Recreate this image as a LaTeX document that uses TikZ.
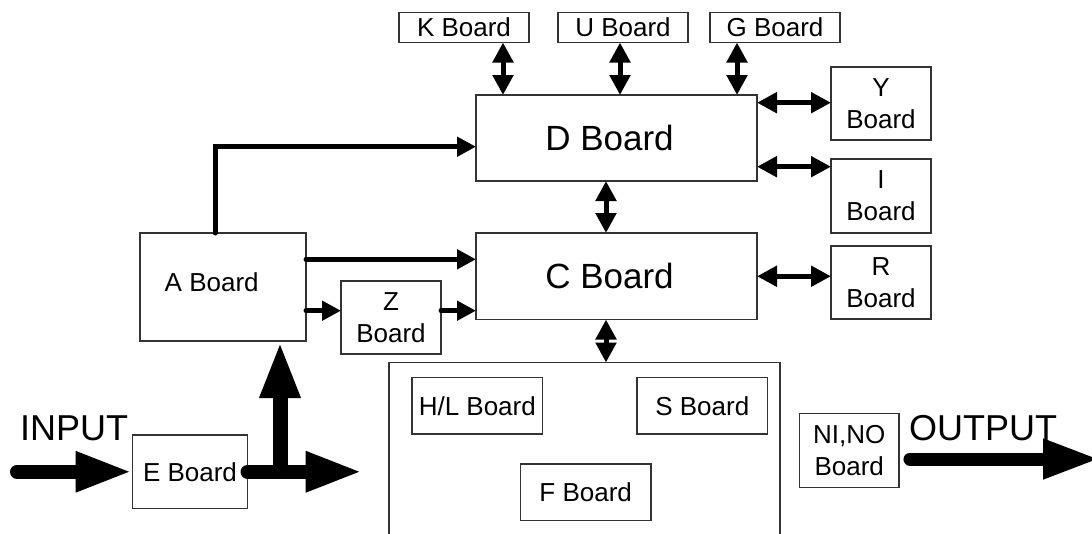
\documentclass[tikz,border=0pt]{standalone}
\usepackage{fontspec}
\setmainfont{Liberation Sans}
\usetikzlibrary{arrows.meta}
\begin{document}
\begin{tikzpicture}[x=1pt,y=-1pt,
  box/.style={draw=black!80, line width=1.3pt, rectangle, inner sep=0pt, outer sep=0pt, align=center, font=\fontsize{26}{32}\selectfont},
  lbl/.style={inner sep=0pt, font=\fontsize{26}{32}\selectfont},
  biglbl/.style={inner sep=0pt, font=\fontsize{35}{42}\selectfont},
  iolbl/.style={inner sep=0pt, font=\fontsize{36}{42}\selectfont},
  dbl/.style={line width=5pt, arrows={Triangle[length=20pt,width=20pt]-Triangle[length=20pt,width=20pt]}},
  one/.style={line width=5pt, line cap=round, arrows={-Triangle[length=19pt,width=19pt]}},
  fat/.style={line width=14pt, line cap=round, arrows={-Triangle[length=57pt,width=37pt]}},
]
\useasboundingbox (0,0) rectangle (1092,533);

% boxes
\node[box, minimum width=130pt, minimum height=30pt] (K) at (464,27.5) {K Board};
\node[box, minimum width=130pt, minimum height=30pt] (U) at (623,27.5) {U Board};
\node[box, minimum width=130pt, minimum height=30pt] (G) at (775,27.5) {G Board};
\node[box, minimum width=281pt, minimum height=86pt] (D) at (616.5,138) {};
\node[biglbl, anchor=base] (Dl) at (609.5,150.7) {D Board};
\node[box, minimum width=281pt, minimum height=86.5pt] (C) at (616.5,276.25) {};
\node[biglbl, anchor=base] (Cl) at (609.5,288.3) {C Board};
\node[box, minimum width=100pt, minimum height=73pt] (Y) at (881,103.5) {Y\\Board};
\node[box, minimum width=100pt, minimum height=74pt] (I) at (881,196) {I\\Board};
\node[box, minimum width=100pt, minimum height=73pt] (R) at (881,282.5) {R\\Board};
\node[box, minimum width=166pt, minimum height=108pt] (A) at (223,287) {};
\node[lbl, anchor=base] (Al) at (211.7,291.7) {A Board};
\node[box, minimum width=100pt, minimum height=73pt] (Z) at (391,317.5) {Z\\Board};
\node[box, minimum width=115pt, minimum height=73.5pt] (E) at (190,471.75) {E Board};
\node[box, minimum width=391pt, minimum height=200pt] (P) at (584.5,462.5) {};
\node[box, minimum width=130.7pt, minimum height=56.3pt] (HL) at (477.3,405.9) {H/L Board};
\node[box, minimum width=130.7pt, minimum height=56.3pt] (S) at (702.3,405.9) {S Board};
\node[box, minimum width=130.5pt, minimum height=56.3pt] (F) at (585.7,492.2) {F Board};
\node[box, minimum width=99.5pt, minimum height=74pt] (N) at (849.2,450.3) {NI,NO\\Board};
\node[iolbl, anchor=base west] (IN) at (20,440) {INPUT};
\node[iolbl, anchor=base west] (OUT) at (909,440) {OUTPUT};

% helper coordinates
\coordinate (k0) at ([xshift=39pt]K.south);
\coordinate (u0) at ([xshift=-3pt]U.south);
\coordinate (g0) at ([xshift=-38pt]G.south);
\coordinate (dy) at ([yshift=35.3pt]D.east);
\coordinate (di) at ([yshift=-28.7pt]D.east);
\coordinate (dc) at ([xshift=-10.5pt]D.south);
\coordinate (cp) at ([xshift=-10.5pt]C.south);
\coordinate (ad) at ([xshift=-8pt]A.north);
\coordinate (dw) at ([yshift=-8.7pt]D.west);
\coordinate (ac) at ([yshift=27.7pt]A.east);
\coordinate (az) at ([yshift=-23.7pt]A.east);
\coordinate (zc) at ([yshift=6.8pt]Z.east);
\coordinate (in0) at (17,471.75);
\coordinate (eout) at (362.7,471.75);
\coordinate (up0) at (280,471.75);
\coordinate (o0) at ([xshift=11pt,yshift=-8.7pt]N.east);
\coordinate (o1) at (1100,459);

% double arrows
\draw[dbl] (k0) -- (k0 |- D.north);
\draw[dbl] (u0) -- (u0 |- D.north);
\draw[dbl] (g0) -- (g0 |- D.north);
\draw[dbl] (dy) -- (dy -| Y.west);
\draw[dbl] (di) -- (di -| I.west);
\draw[dbl] (C.east) -- (C.east -| R.west);
\draw[dbl] (dc) -- (dc |- C.north);
\draw[dbl] (cp) -- (cp |- P.north);

% single arrows
\draw[one] (ad) |- (dw);
\draw[one] (ac) -- (ac -| C.west);
\draw[one] (az) -- (az -| Z.west);
\draw[one] (zc) -- (zc -| C.west);

% fat arrows
\draw[fat] (in0) -- (in0 -| E.west);
\draw[fat] (E.east) -- (eout);
\draw[fat, line width=15pt, line cap=butt] (up0) -- (up0 |- A.south);
\draw[fat, line width=13pt] (o0) -- (o1);
\end{tikzpicture}
\end{document}
